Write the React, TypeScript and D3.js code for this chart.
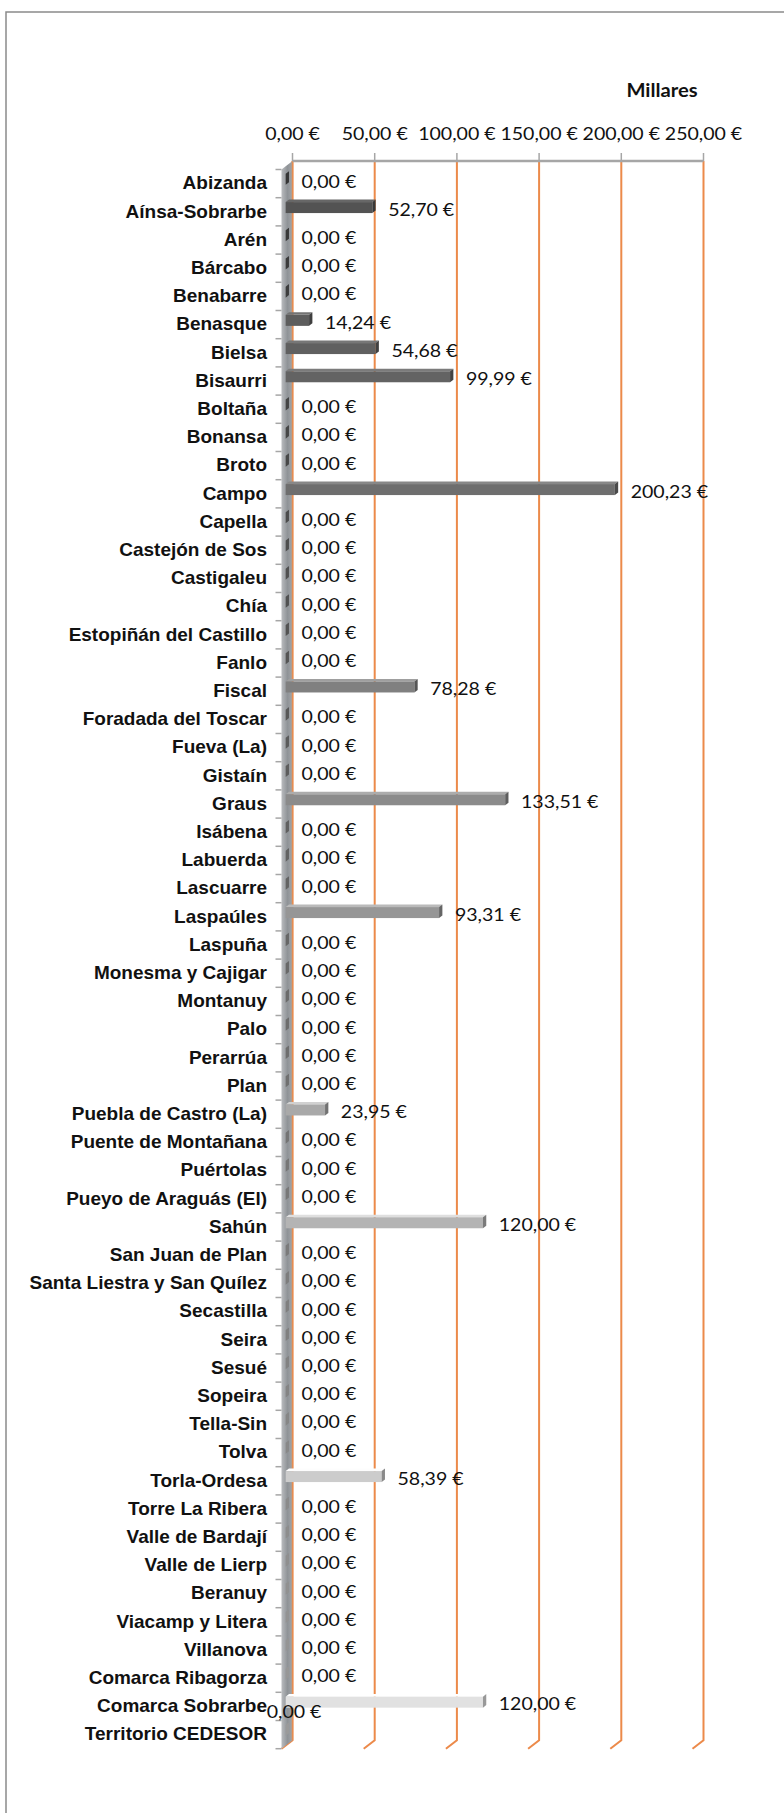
import React from "react";
import * as d3 from "d3";

const categories = [
  "Abizanda", "Aínsa-Sobrarbe", "Arén", "Bárcabo", "Benabarre", "Benasque", "Bielsa", "Bisaurri",
  "Boltaña", "Bonansa", "Broto", "Campo", "Capella", "Castejón de Sos", "Castigaleu", "Chía",
  "Estopiñán del Castillo", "Fanlo", "Fiscal", "Foradada del Toscar", "Fueva (La)", "Gistaín", "Graus",
  "Isábena", "Labuerda", "Lascuarre", "Laspaúles", "Laspuña", "Monesma y Cajigar", "Montanuy", "Palo",
  "Perarrúa", "Plan", "Puebla de Castro (La)", "Puente de Montañana", "Puértolas", "Pueyo de Araguás (El)",
  "Sahún", "San Juan de Plan", "Santa Liestra y San Quílez", "Secastilla", "Seira", "Sesué", "Sopeira",
  "Tella-Sin", "Tolva", "Torla-Ordesa", "Torre La Ribera", "Valle de Bardají", "Valle de Lierp", "Beranuy",
  "Viacamp y Litera", "Villanova", "Comarca Ribagorza", "Comarca Sobrarbe", "Territorio CEDESOR",
];

// values in thousands of euros (Millares)
const values = [
  0, 52.70, 0, 0, 0, 14.24, 54.68, 99.99,
  0, 0, 0, 200.23, 0, 0, 0, 0,
  0, 0, 78.28, 0, 0, 0, 133.51,
  0, 0, 0, 93.31, 0, 0, 0, 0,
  0, 0, 23.95, 0, 0, 0,
  120.00, 0, 0, 0, 0, 0, 0,
  0, 0, 58.39, 0, 0, 0, 0,
  0, 0, 0, 120.00, 0,
];

const xTicks = [0, 50, 100, 150, 200, 250];
const unitLabel = "Millares";

const W = 784;
const H = 1813;

const locale = d3.formatLocale({ decimal: ",", thousands: ".", grouping: [3], currency: ["", " €"] });
const fmt = (v: number) => locale.format(".2f")(v) + " €";

export default function App() {
  const x = d3.scaleLinear().domain([0, 250]).range([292.5, 703.5]);
  const y = d3.scaleBand<string>().domain(categories).range([161, 161 + categories.length * 28.2]).padding(0);
  const bw = y.bandwidth();
  const yTop = y.range()[0];
  const yBot = y.range()[1];
  const DX = -11;
  const DY = 8.5;
  const tF = 0.62;
  const tB = 0.32;
  const color = d3.scaleLinear<string>().domain([0, categories.length - 1]).range(["#505050", "#e4e4e4"]);
  const grid = "#EC8A4A";
  const valFont = "Lato, 'Open Sans', sans-serif";
  const catFont = "'Liberation Sans', Arial, sans-serif";
  const sxVal = 1.15;
  const sxCat = 1.055;

  return (
    <div style={{ position: "absolute", left: 0, top: 0 }}>
      <svg width={W} height={H} style={{ display: "block", background: "#fff" }}>
        <defs>
          <linearGradient id="wallG" x1="0" x2="1" y1="0" y2="0">
            <stop offset="0%" stopColor="#b9bbbe" />
            <stop offset="55%" stopColor="#8f9397" />
            <stop offset="100%" stopColor="#a3a6a9" />
          </linearGradient>
        </defs>
        <rect x={6} y={12} width={800} height={1850} fill="#fff" stroke="#8a8a8a" strokeWidth={1.5} />

        {/* unit label */}
        <text
          transform={`translate(662,97) scale(1.12,1)`}
          textAnchor="middle"
          fontFamily={valFont}
          fontWeight={700}
          fontSize={18}
          fill="#111"
        >
          {unitLabel}
        </text>

        {/* top axis tick labels */}
        {xTicks.map((t) => (
          <text
            key={"tl" + t}
            transform={`translate(${x(t)},140) scale(${sxVal},1)`}
            textAnchor="middle"
            fontFamily={valFont}
            fontSize={17}
            fill="#111"
          >
            {fmt(t)}
          </text>
        ))}

        {/* gridlines (back wall) */}
        {xTicks.map((t) => (
          <polyline
            key={"g" + t}
            points={`${x(t)},${yTop} ${x(t)},${yBot} ${x(t) + DX},${yBot + DY}`}
            fill="none"
            stroke={grid}
            strokeWidth={2}
          />
        ))}

        {/* left 3D wall */}
        <polygon
          points={`${x(0)},${yTop} ${x(0)},${yBot} ${x(0) + DX},${yBot + DY} ${x(0) + DX},${yTop + DY}`}
          fill="url(#wallG)"
        />
        <line x1={x(0)} x2={x(0)} y1={yTop} y2={yBot} stroke={grid} strokeWidth={1.5} opacity={0.8} />

        {/* top axis line and ticks */}
        <line x1={x(0)} x2={x(250)} y1={yTop} y2={yTop} stroke="#a6a6a6" strokeWidth={2.5} />
        {xTicks.map((t) => (
          <line key={"tk" + t} x1={x(t)} x2={x(t)} y1={yTop - 8} y2={yTop} stroke="#a6a6a6" strokeWidth={1.5} />
        ))}

        {/* category ticks */}
        {d3.range(categories.length + 1).map((i) => (
          <line
            key={"ct" + i}
            x1={x(0) + DX - 6}
            x2={x(0) + DX}
            y1={yTop + DY + i * bw}
            y2={yTop + DY + i * bw}
            stroke="#a6a6a6"
            strokeWidth={1.5}
          />
        ))}

        {/* bars */}
        {categories.map((c, i) => {
          const v = values[i];
          const yb = (y(c) as number) + bw / 2;
          const fx = DX * tF, fy = DY * tF;
          const bx = DX * tB, by = DY * tB;
          const x0 = x(0), x1 = x(v);
          const fTop = yb - 6.5 + fy;
          const fBot = fTop + 11;
          const bTop = yb - 6.5 + by;
          const bBot = bTop + 11;
          const col = d3.color(color(i))!;
          const topCol = col.brighter(0.6).formatHex();
          const capCol = col.darker(1.1).formatHex();
          return (
            <g key={"b" + i}>
              {v > 0 && (
                <>
                  <polygon
                    points={`${x0 + fx},${fTop} ${x1 + fx},${fTop} ${x1 + bx},${bTop} ${x0 + bx},${bTop}`}
                    fill={topCol}
                  />
                  <rect x={x0 + fx} y={fTop} width={x1 - x0} height={fBot - fTop} fill={col.formatHex()} />
                </>
              )}
              <polygon
                points={`${x1 + fx},${fTop} ${x1 + bx},${bTop} ${x1 + bx},${bBot} ${x1 + fx},${fBot}`}
                fill={capCol}
              />
            </g>
          );
        })}

        {/* category labels */}
        {categories.map((c) => (
          <text
            key={"cl" + c}
            transform={`translate(267,${(y(c) as number) + bw / 2 + 14.3}) scale(${sxCat},1)`}
            textAnchor="end"
            fontFamily={catFont}
            fontWeight={700}
            fontSize={18}
            fill="#111"
          >
            {c}
          </text>
        ))}

        {/* value labels */}
        {categories.map((c, i) => {
          const isLast = i === categories.length - 1;
          const lx = x(values[i]) + 9 + (isLast ? -34.8 : 0);
          const ly = (y(c) as number) + bw / 2 + 12.5 + (isLast ? -20.3 : 0);
          return (
            <text
              key={"vl" + i}
              transform={`translate(${lx},${ly}) scale(${sxVal},1)`}
              fontFamily={valFont}
              fontSize={17}
              fill="#111"
            >
              {fmt(values[i])}
            </text>
          );
        })}
      </svg>
    </div>
  );
}
